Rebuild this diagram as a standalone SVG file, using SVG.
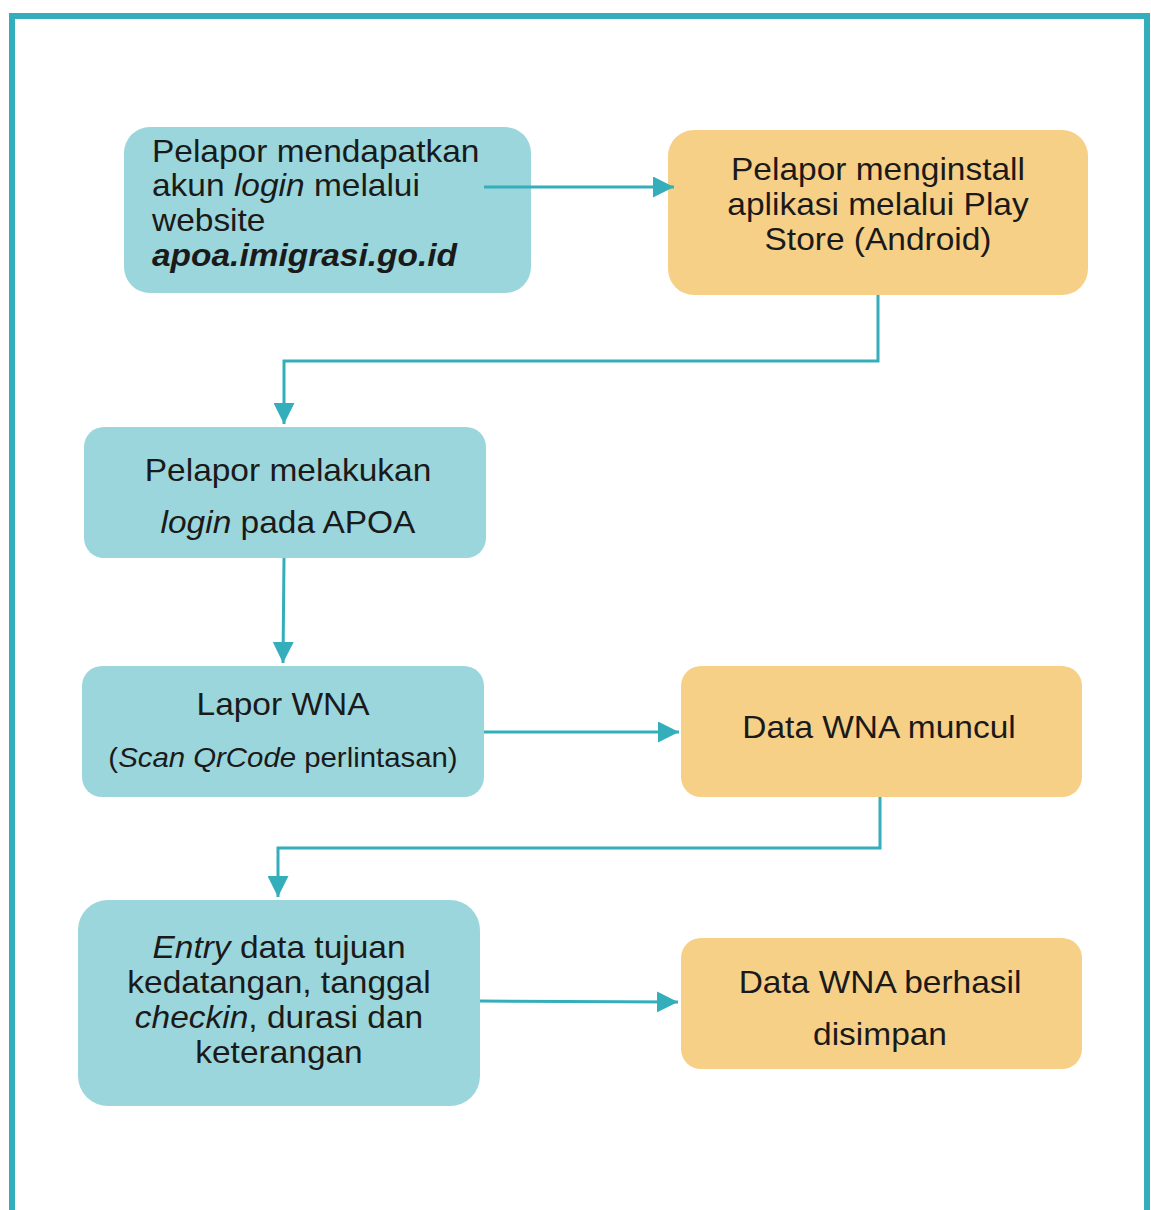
<svg xmlns="http://www.w3.org/2000/svg" width="1151" height="1210" viewBox="0 0 1151 1210">
<defs>
<style>
.blue{fill:#9BD6DC}
.orange{fill:#F7D087}
.t{font-family:"Liberation Sans",Arial,sans-serif;font-size:31px;fill:#1a1a1a}
.c{text-anchor:middle}
.conn{fill:none;stroke:#34AEBB;stroke-width:3}
</style>
<marker id="ah" viewBox="0 0 10 10" refX="10" refY="5" markerWidth="7" markerHeight="7" markerUnits="strokeWidth" orient="auto">
<path d="M0,0 L10,5 L0,10 Z" fill="#34AEBB"/>
</marker>
</defs>
<rect width="1151" height="1210" fill="#ffffff"/>
<path d="M12,1210 V16 H1147 V1210" fill="none" stroke="#34AEBB" stroke-width="6"/>

<g id="node1">
<rect class="blue" x="124" y="127" width="407" height="166" rx="26"/>
<g transform="matrix(1.08 0 0 1 152 0)">
<text class="t" x="0" y="162">Pelapor mendapatkan</text>
<text class="t" x="0" y="196">akun <tspan font-style="italic">login</tspan> melalui</text>
<text class="t" x="0" y="231">website</text>
<text class="t" x="0" y="266" font-weight="bold" font-style="italic">apoa.imigrasi.go.id</text>
</g>
</g>

<g id="node2">
<rect class="orange" x="668" y="130" width="420" height="165" rx="26"/>
<g transform="matrix(1.08 0 0 1 878 0)">
<text class="t c" x="0" y="180">Pelapor menginstall</text>
<text class="t c" x="0" y="215">aplikasi melalui Play</text>
<text class="t c" x="0" y="250">Store (Android)</text>
</g>
</g>

<g id="node3">
<rect class="blue" x="84" y="427" width="402" height="131" rx="20"/>
<g transform="matrix(1.08 0 0 1 288 0)">
<text class="t c" x="0" y="481">Pelapor melakukan</text>
<text class="t c" x="0" y="533"><tspan font-style="italic">login</tspan> pada APOA</text>
</g>
</g>

<g id="node4">
<rect class="blue" x="82" y="666" width="402" height="131" rx="20"/>
<g transform="matrix(1.08 0 0 1 283 0)">
<text class="t c" x="0" y="715">Lapor WNA</text>
<text class="t c" x="0" y="767" style="font-size:27.2px">(<tspan font-style="italic">Scan QrCode</tspan> perlintasan)</text>
</g>
</g>

<g id="node5">
<rect class="orange" x="681" y="666" width="401" height="131" rx="20"/>
<g transform="matrix(1.08 0 0 1 879 0)">
<text class="t c" x="0" y="738">Data WNA muncul</text>
</g>
</g>

<g id="node6">
<rect class="blue" x="78" y="900" width="402" height="206" rx="30"/>
<g transform="matrix(1.08 0 0 1 279 0)">
<text class="t c" x="0" y="958"><tspan font-style="italic">Entry</tspan> data tujuan</text>
<text class="t c" x="0" y="993">kedatangan, tanggal</text>
<text class="t c" x="0" y="1028"><tspan font-style="italic">checkin</tspan>, durasi dan</text>
<text class="t c" x="0" y="1063">keterangan</text>
</g>
</g>

<g id="node7">
<rect class="orange" x="681" y="938" width="401" height="131" rx="20"/>
<g transform="matrix(1.08 0 0 1 880 0)">
<text class="t c" x="0" y="993">Data WNA berhasil</text>
<text class="t c" x="0" y="1045">disimpan</text>
</g>
</g>

<g id="connectors">
<path class="conn" d="M484,187 H674" marker-end="url(#ah)"/>
<path class="conn" d="M878,295 V361 H284 V424" marker-end="url(#ah)"/>
<path class="conn" d="M284,558 L283,663" marker-end="url(#ah)"/>
<path class="conn" d="M484,732 H679" marker-end="url(#ah)"/>
<path class="conn" d="M880,797 V848 H278 V897" marker-end="url(#ah)"/>
<path class="conn" d="M480,1001 L678,1002" marker-end="url(#ah)"/>
</g>
</svg>
